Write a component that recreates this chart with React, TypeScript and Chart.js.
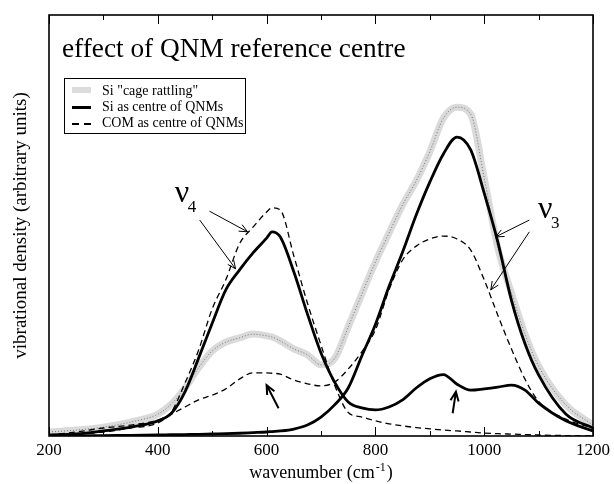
import React, { useEffect, useRef } from "react";
import { Chart, registerables } from "chart.js";

Chart.register(...registerables);

// ---------- data ----------
const WAVENUMBERS = [200, 250, 300, 350, 400, 425, 450, 475, 500, 525, 550, 575, 600, 610, 625, 650, 675, 700, 725, 750, 775, 800, 825, 850, 875, 900, 925, 950, 975, 1000, 1025, 1050, 1075, 1100, 1150, 1200];

const SI_CAGE_RATTLING = [0.95, 1.4, 2.1, 3.3, 5.2, 7.6, 11.4, 16.2, 20.2, 22.3, 23.3, 24.2, 23.8, 23.5, 22.6, 20.7, 19.3, 16.9, 18.4, 25.9, 33.7, 41.3, 48.2, 54.9, 60.6, 67.5, 75.5, 78.1, 76.5, 61.3, 44.7, 34.0, 24.2, 16.6, 7.4, 2.6];

const SI_CENTRE_NU4 = [0.24, 0.48, 1.2, 2.1, 3.6, 5.4, 10.5, 18.5, 26.8, 34.7, 39.4, 43.5, 47.0, 48.5, 47.3, 39.0, 29.0, 19.7, 12.8, 8.1, 6.7, 6.2, 6.9, 8.6, 11.4, 13.6, 14.6, 12.3, 10.9, 11.2, 11.6, 12.1, 10.9, 7.8, 3.6, 1.2];

const SI_CENTRE_NU3 = [0, 0, 0.1, 0.15, 0.24, 0.3, 0.35, 0.4, 0.48, 0.55, 0.65, 0.8, 0.95, 1.05, 1.2, 1.66, 2.6, 4.5, 7.4, 11.4, 19.0, 26.5, 35.5, 43.7, 52.5, 60.3, 67.0, 71.0, 68.0, 57.7, 46.1, 32.3, 21.9, 14.5, 5.2, 1.9];

const COM_CENTRE_NU4 = [0.24, 0.48, 0.95, 1.9, 3.1, 5.7, 12.6, 20.4, 30.2, 37.1, 45.6, 49.6, 53.2, 54.2, 53.7, 42.8, 31.6, 21.6, 12.1, 5.6, 4.5, 3.6, 2.9, 2.4, 2.0, 1.7, 1.4, 1.2, 0.95, 0.7, 0.55, 0.45, 0.35, 0.24, 0.1, 0];

const COM_CENTRE_NU3 = [0.24, 0.95, 1.9, 2.6, 3.8, 5.2, 6.9, 8.6, 9.7, 11.2, 13.5, 15.0, 15.0, 14.9, 14.7, 13.3, 12.4, 11.9, 12.8, 15.9, 20.0, 25.2, 34.7, 41.8, 45.1, 46.8, 47.5, 46.8, 44.2, 37.1, 28.7, 20.7, 13.5, 8.2, 4.0, 1.9];

const X_TICK_LABELS = [200, 400, 600, 800, 1000, 1200];
const MINOR_TICKS = [300, 500, 700, 900, 1100];

const TITLE = "effect of QNM reference centre";
const X_TITLE = "wavenumber (cm";
const X_TITLE_SUP = "-1";
const Y_TITLE = "vibrational density (arbitrary units)";
const LEGEND_LABELS = ['Si "cage rattling"', "Si as centre of QNMs", "COM as centre of QNMs"];

// annotation arrows in data coordinates: [fromX, fromY, toX, toY, width]
const ARROWS: number[][] = [
  [495, 53.4, 565, 48.5, 1],
  [477, 51.3, 543, 39.7, 1],
  [622, 6.6, 600, 12.1, 2],
  [1083, 51.3, 1021, 47.3, 1],
  [1083, 48.5, 1012, 34.7, 1],
  [942, 5.4, 948, 10.5, 2],
];
// band labels: [x, y, subscript]
const BAND_LABELS: [number, number, string][] = [
  [431, 55.6, "4"],
  [1099, 51.8, "3"],
];

const SERIF = '"Liberation Serif", "Times New Roman", serif';

const pts = (ys: number[]) => WAVENUMBERS.map((x, i) => ({ x, y: ys[i] }));

const decor = {
  id: "decor",
  afterDraw(chart: any) {
    const { ctx, chartArea: ca, scales } = chart;
    const xs = scales.x;
    const ys = scales.y;
    const P = (x: number, y: number) => [xs.getPixelForValue(x), ys.getPixelForValue(y)];
    ctx.save();

    // frame
    ctx.strokeStyle = "#000";
    ctx.lineWidth = 1.6;
    ctx.setLineDash([]);
    ctx.strokeRect(ca.left, ca.top, ca.right - ca.left, ca.bottom - ca.top);

    // inward ticks
    ctx.lineWidth = 1;
    const tick = (v: number, len: number) => {
      const px = Math.round(xs.getPixelForValue(v)) + 0.5;
      ctx.beginPath();
      ctx.moveTo(px, ca.bottom);
      ctx.lineTo(px, ca.bottom - len);
      ctx.moveTo(px, ca.top);
      ctx.lineTo(px, ca.top + len);
      ctx.stroke();
    };
    X_TICK_LABELS.forEach((v) => tick(v, 9));
    MINOR_TICKS.forEach((v) => tick(v, 5));

    // title
    ctx.fillStyle = "#000";
    ctx.textAlign = "left";
    ctx.textBaseline = "alphabetic";
    ctx.font = `27.3px ${SERIF}`;
    ctx.fillText(TITLE, ca.left + 13, ca.top + 42);

    // legend
    const lx = ca.left + 15;
    const ly = ca.top + 63;
    ctx.lineWidth = 1;
    ctx.strokeRect(lx + 0.5, ly + 0.5, 181, 55);
    ctx.font = `14px ${SERIF}`;
    const ds = chart.data.datasets;
    // gray swatch
    ctx.fillStyle = "#dcdcdc";
    ctx.fillRect(lx + 8, ly + 9, 19, 6);
    ctx.fillStyle = "#000";
    ctx.fillText(LEGEND_LABELS[0], lx + 38, ly + 17);
    // solid
    ctx.strokeStyle = ds[2].borderColor;
    ctx.lineWidth = 3;
    ctx.beginPath();
    ctx.moveTo(lx + 8, ly + 29.5);
    ctx.lineTo(lx + 27, ly + 29.5);
    ctx.stroke();
    ctx.fillText(LEGEND_LABELS[1], lx + 38, ly + 33);
    // dashed
    ctx.lineWidth = 2;
    ctx.setLineDash([7, 5]);
    ctx.beginPath();
    ctx.moveTo(lx + 8, ly + 46);
    ctx.lineTo(lx + 27, ly + 46);
    ctx.stroke();
    ctx.setLineDash([]);
    ctx.fillText(LEGEND_LABELS[2], lx + 38, ly + 49);

    // x title with superscript
    ctx.font = `18px ${SERIF}`;
    const w1 = ctx.measureText(X_TITLE).width;
    ctx.font = `12px ${SERIF}`;
    const w2 = ctx.measureText(X_TITLE_SUP).width;
    ctx.font = `18px ${SERIF}`;
    const w3 = ctx.measureText(")").width;
    const total = w1 + w2 + w3 + 2;
    const cx = (ca.left + ca.right) / 2;
    let tx = cx - total / 2;
    const by = ca.bottom + 42;
    ctx.fillText(X_TITLE, tx, by);
    tx += w1 + 1;
    ctx.font = `12px ${SERIF}`;
    ctx.fillText(X_TITLE_SUP, tx, by - 7);
    tx += w2 + 1;
    ctx.font = `18px ${SERIF}`;
    ctx.fillText(")", tx, by);

    // y title
    ctx.save();
    ctx.translate(ca.left - 23, (ca.top + ca.bottom) / 2);
    ctx.rotate(-Math.PI / 2);
    ctx.font = `19px ${SERIF}`;
    ctx.textAlign = "center";
    ctx.fillText(Y_TITLE, 0, 0);
    ctx.restore();

    // arrows
    ctx.strokeStyle = "#000";
    ARROWS.forEach(([x0, y0, x1, y1, w]) => {
      const [a, b] = P(x0, y0);
      const [c, d] = P(x1, y1);
      ctx.lineWidth = w;
      ctx.beginPath();
      ctx.moveTo(a, b);
      ctx.lineTo(c, d);
      const ang = Math.atan2(d - b, c - a);
      const hl = w > 1 ? 10 : 9;
      const spread = 0.42;
      ctx.moveTo(c - hl * Math.cos(ang - spread), d - hl * Math.sin(ang - spread));
      ctx.lineTo(c, d);
      ctx.lineTo(c - hl * Math.cos(ang + spread), d - hl * Math.sin(ang + spread));
      ctx.stroke();
    });

    // band labels
    BAND_LABELS.forEach(([x, y, sub]) => {
      const [px, py] = P(x, y);
      ctx.font = `32px ${SERIF}`;
      ctx.textAlign = "left";
      const w = ctx.measureText("\u03bd").width;
      ctx.fillText("\u03bd", px, py);
      ctx.font = `17px ${SERIF}`;
      ctx.fillText(sub, px + w * 0.9, py + 10);
    });

    ctx.restore();
  },
};

export default function App() {
  const ref = useRef<HTMLCanvasElement>(null);
  useEffect(() => {
    const chart = new Chart(ref.current as HTMLCanvasElement, {
      type: "line",
      data: {
        datasets: [
          { label: LEGEND_LABELS[0], data: pts(SI_CAGE_RATTLING), borderColor: "#dadada", borderWidth: 7, order: 10 },
          { label: "", data: pts(SI_CAGE_RATTLING), borderColor: "#666666", borderWidth: 0.9, borderDash: [1, 2], order: 9 },
          { label: LEGEND_LABELS[1], data: pts(SI_CENTRE_NU4), borderColor: "#000000", borderWidth: 2.8, order: 1 },
          { label: "", data: pts(SI_CENTRE_NU3), borderColor: "#000000", borderWidth: 2.8, order: 1 },
          { label: LEGEND_LABELS[2], data: pts(COM_CENTRE_NU4), borderColor: "#000000", borderWidth: 1.3, borderDash: [6, 4], order: 2 },
          { label: "", data: pts(COM_CENTRE_NU3), borderColor: "#000000", borderWidth: 1.3, borderDash: [6, 4], order: 2 },
        ],
      },
      options: {
        animation: false,
        responsive: false,
        devicePixelRatio: 1,
        parsing: true,
        layout: { padding: { left: 0, top: 15, right: 20, bottom: 0 } },
        elements: {
          point: { radius: 0, hoverRadius: 0 },
          line: { cubicInterpolationMode: "monotone", fill: false },
        },
        plugins: { legend: { display: false }, tooltip: { enabled: false }, title: { display: false } },
        scales: {
          x: {
            type: "linear",
            min: 200,
            max: 1200,
            afterFit: (s: any) => {
              s.height = 48;
            },
            afterBuildTicks: (s: any) => {
              s.ticks = X_TICK_LABELS.map((v) => ({ value: v }));
            },
            grid: { display: false, drawTicks: false },
            border: { display: false },
            ticks: {
              padding: 4,
              color: "#000",
              maxRotation: 0,
              autoSkip: false,
              font: { family: SERIF, size: 17 },
              callback: (v: any) => String(v),
            },
          },
          y: {
            type: "linear",
            min: 0,
            max: 100,
            afterFit: (s: any) => {
              s.width = 49;
            },
            grid: { display: false },
            border: { display: false },
            ticks: { display: false },
          },
        },
      },
      plugins: [decor],
    } as any);
    return () => chart.destroy();
  }, []);
  return (
    <div style={{ position: "fixed", left: 0, top: 0, width: 614, height: 484, background: "#fff" }}>
      <canvas ref={ref} width={614} height={484} style={{ width: 614, height: 484, display: "block" }} />
    </div>
  );
}
